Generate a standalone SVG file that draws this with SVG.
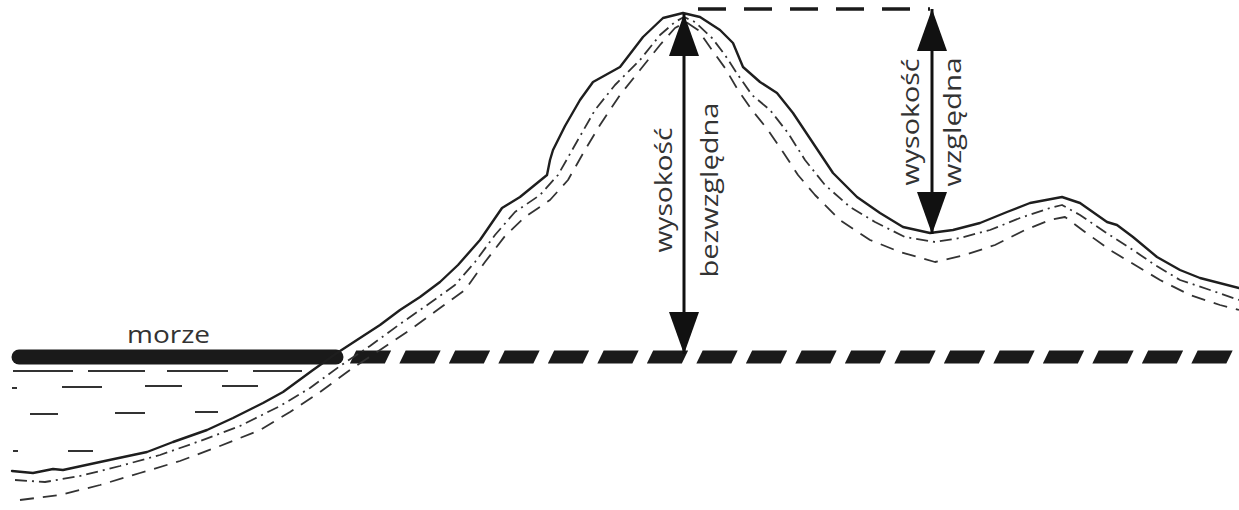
<svg xmlns="http://www.w3.org/2000/svg" width="1239" height="510" viewBox="0 0 1239 510">
  <defs>
    <style>
      .ground { fill: none; stroke: #1e1e1e; stroke-width: 2.4; stroke-linejoin: round; stroke-linecap: round; }
      .layer1 { fill: none; stroke: #333; stroke-width: 1.8; stroke-dasharray: 12 5 2 5; stroke-linejoin: round; }
      .layer2 { fill: none; stroke: #333; stroke-width: 1.8; stroke-dasharray: 14 9; stroke-linejoin: round; }
      .water { stroke: #333; stroke-width: 2; }
      .level { fill: none; stroke: #1a1a1a; stroke-width: 13; stroke-dasharray: 35 14.5; }
      .top-level { fill: none; stroke: #1a1a1a; stroke-width: 3.5; stroke-dasharray: 28 18; }
      .shaft { stroke: #111; stroke-width: 3; }
      .label { font-family: "Open Sans", "Liberation Sans", sans-serif; font-size: 24px; fill: #333; }
    </style>
    <marker id="head" viewBox="0 0 42 30" refX="42" refY="15" markerWidth="42" markerHeight="30" markerUnits="userSpaceOnUse" orient="auto-start-reverse">
      <path d="M0,0 L42,15 L0,30 Z" fill="#111"/>
    </marker>
  </defs>

  <rect width="1239" height="510" fill="#fff"/>

  <!-- sea surface and water hatching -->
  <g id="sea">
    <line x1="19" y1="357" x2="336" y2="357" stroke="#1a1a1a" stroke-width="15" stroke-linecap="round"/>
    <g class="water">
      <line x1="13" y1="371" x2="73" y2="371"/>
      <line x1="88" y1="371" x2="145" y2="371"/>
      <line x1="167" y1="371" x2="228" y2="371"/>
      <line x1="253" y1="371" x2="302" y2="371"/>
      <line x1="12" y1="388" x2="17" y2="388"/>
      <line x1="62" y1="387" x2="102" y2="387"/>
      <line x1="145" y1="386" x2="182" y2="386"/>
      <line x1="222" y1="386" x2="258" y2="386"/>
      <line x1="30" y1="414" x2="58" y2="414"/>
      <line x1="115" y1="413" x2="145" y2="413"/>
      <line x1="195" y1="412" x2="218" y2="412"/>
      <line x1="13" y1="451" x2="18" y2="451"/>
      <line x1="68" y1="451" x2="93" y2="451"/>
    </g>
    <text id="morze" class="label" x="127" y="343" textLength="83" lengthAdjust="spacingAndGlyphs">morze</text>
  </g>

  <!-- sea level continued under the land -->
  <g id="sea-level" transform="translate(0,357) skewX(-26)">
    <line class="level" x1="353" y1="0" x2="1239" y2="0"/>
  </g>

  <!-- terrain profile with rock layers -->
  <g id="terrain">
    <path class="layer2" d="M20,500 L60,495 L100,485 L140,473 L180,461 L220,446 L260,430 L290,412 L320,392 L350,370 L380,350 L410,330 L440,308 L465,290 L485,262 L505,236 L525,217 L550,200 L568,180 L585,150 L600,125 L620,95 L640,70 L660,45 L675,28 L686,22 L698,30 L712,50 L725,68 L738,90 L752,110 L768,130 L783,152 L798,175 L815,195 L840,220 L870,240 L900,252 L935,262 L965,255 L995,245 L1025,230 L1050,220 L1065,217 L1085,232 L1110,250 L1135,265 L1160,280 L1190,295 L1220,305 L1239,310"/>
    <path class="layer1" d="M15,480 L45,482 L80,476 L120,466 L160,455 L200,441 L240,426 L280,406 L310,388 L340,366 L370,346 L400,324 L430,303 L455,285 L475,262 L495,235 L515,212 L540,195 L558,175 L575,145 L595,110 L615,85 L640,60 L660,35 L675,22 L684,17 L695,22 L712,38 L725,55 L738,75 L752,95 L770,110 L788,133 L805,160 L825,185 L850,207 L875,222 L905,237 L935,242 L960,238 L990,230 L1020,218 L1050,208 L1062,205 L1080,215 L1105,232 L1130,248 L1155,265 L1180,280 L1210,290 L1239,300"/>
    <path class="ground" d="M12,471 L33,473 L53,469 L63,470 L100,462 L147,452 L173,442 L207,430 L233,418 L263,403 L283,392 L313,370 L337,353 L360,338 L380,325 L400,310 L420,297 L440,282 L458,265 L480,240 L502,208 L520,197 L547,175 L550,160 L553,150 L565,126 L580,100 L593,82 L620,67 L643,37 L663,18 L683,13 L700,17 L720,30 L733,43 L743,67 L760,82 L777,93 L793,113 L813,143 L833,173 L857,197 L880,213 L903,227 L930,233 L953,230 L980,223 L1007,212 L1030,203 L1062,197 L1080,203 L1107,222 L1117,225 L1133,237 L1157,257 L1180,270 L1200,278 L1239,288"/>
  </g>

  <!-- summit level line -->
  <g id="summit-level">
    <line class="top-level" x1="698" y1="9" x2="930" y2="9"/>
  </g>

  <!-- height arrows -->
  <g id="connectors">
    <line class="shaft" x1="684" y1="14" x2="684" y2="354" marker-start="url(#head)" marker-end="url(#head)"/>
    <line class="shaft" x1="932" y1="9" x2="932" y2="234" marker-start="url(#head)" marker-end="url(#head)"/>
  </g>

  <!-- labels -->
  <g id="absolute-height">
    <text class="label" text-anchor="middle" transform="translate(672,190) rotate(-90)" textLength="125" lengthAdjust="spacingAndGlyphs">wysokość</text>
    <text class="label" text-anchor="middle" transform="translate(718,190) rotate(-90)" textLength="175" lengthAdjust="spacingAndGlyphs">bezwzględna</text>
  </g>
  <g id="relative-height">
    <text class="label" text-anchor="middle" transform="translate(919,122) rotate(-90)" textLength="127" lengthAdjust="spacingAndGlyphs">wysokość</text>
    <text class="label" text-anchor="middle" transform="translate(961,122) rotate(-90)" textLength="129" lengthAdjust="spacingAndGlyphs">względna</text>
  </g>
</svg>
